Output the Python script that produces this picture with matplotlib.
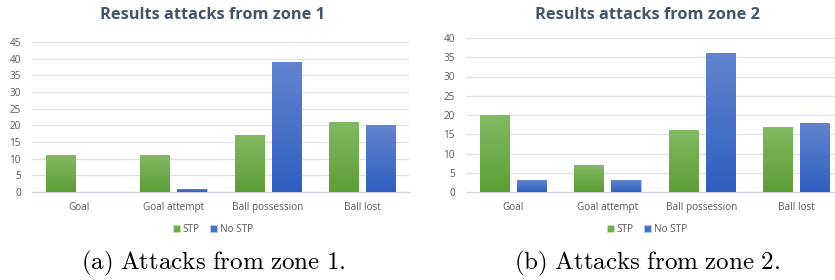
import matplotlib
matplotlib.use("Agg")
import matplotlib.pyplot as plt
import numpy as np
from matplotlib.colors import LinearSegmentedColormap

plt.rcParams["font.family"] = ["Open Sans", "DejaVu Sans"]
plt.rcParams["mathtext.fontset"] = "cm"

categories = ["Goal", "Goal attempt", "Ball possession", "Ball lost"]
stp_zone1    = [11, 11, 17, 21]
no_stp_zone1 = [0, 1, 39, 20]
stp_zone2    = [20, 7, 16, 17]
no_stp_zone2 = [3, 3, 36, 18]

GREEN_CMAP = LinearSegmentedColormap.from_list("g", ["#5c9e35", "#82ba62"])
BLUE_CMAP  = LinearSegmentedColormap.from_list("b", ["#2f5fbf", "#6384cf"])
TEXT = "#595959"
TITLE = "#44546a"

W, H = 835, 280
fig = plt.figure(figsize=(W / 100, H / 100), dpi=100)


def gradient_bars(ax, bars, cmap):
    grad = np.linspace(0, 1, 256).reshape(-1, 1)
    for b in bars:
        x0, h, w = b.get_x(), b.get_height(), b.get_width()
        if h <= 0:
            continue
        im = ax.imshow(grad, cmap=cmap, origin="lower", aspect="auto",
                       extent=(x0, x0 + w, 0, h), zorder=3)
        im.set_clip_path(b)


def panel(left_px, top_px, bottom_px, ymax, stp, nostp, title, caption, cx):
    width_px = 4 * 94.3
    ax = fig.add_axes([left_px / W, 1 - bottom_px / H, width_px / W,
                       (bottom_px - top_px) / H])
    x = np.arange(len(categories))
    bw, gap = 0.31, 0.085
    b1 = ax.bar(x - (bw + gap) / 2, stp, bw, color="#70ad47",
                edgecolor="#c8e0b8", linewidth=0.6, zorder=2, label="STP")
    b2 = ax.bar(x + (bw + gap) / 2, nostp, bw, color="#4472c4",
                edgecolor="#b8c8e8", linewidth=0.6, zorder=2, label="No STP")
    gradient_bars(ax, b1, GREEN_CMAP)
    gradient_bars(ax, b2, BLUE_CMAP)
    ax.set_xlim(-0.5, len(categories) - 0.5)
    ax.set_ylim(0, ymax)
    ax.set_yticks(np.arange(0, ymax + 1, 5))
    ax.set_xticks(x)
    ax.set_xticklabels(categories)
    ax.tick_params(axis="both", length=0, labelsize=7.2, colors=TEXT)
    ax.tick_params(axis="x", pad=7)
    ax.tick_params(axis="y", pad=8)
    ax.grid(axis="y", color="#dde1e8", linewidth=0.9, zorder=0)
    ax.set_axisbelow(True)
    for s in ["top", "right", "left"]:
        ax.spines[s].set_visible(False)
    ax.spines["bottom"].set_color("#d0d4dc")
    ax.spines["bottom"].set_linewidth(0.9)
    fig.text(cx / W, 1 - 15 / H, title, ha="center", va="center",
             fontsize=11.8, fontweight="bold", color=TITLE)
    leg = fig.legend(handles=[b1, b2], loc="center", ncol=2,
                     bbox_to_anchor=(cx / W, 1 - 229 / H), frameon=False,
                     fontsize=7.2, handlelength=0.7, handleheight=0.7,
                     handletextpad=0.3, columnspacing=1.0)
    for t in leg.get_texts():
        t.set_color(TEXT)
    fig.text(cx / W, 1 - 263 / H, caption, ha="center", va="center",
             fontsize=18, color="black")
    return ax


panel(32, 42, 192, 45, stp_zone1, no_stp_zone1,
      "Results attacks from zone 1",
      r"$\mathrm{(a)\ Attacks\ from\ zone\ 1.}$", 213)
panel(466, 38, 192, 40, stp_zone2, no_stp_zone2,
      "Results attacks from zone 2",
      r"$\mathrm{(b)\ Attacks\ from\ zone\ 2.}$", 647)

fig.savefig("out.png", dpi=100)
